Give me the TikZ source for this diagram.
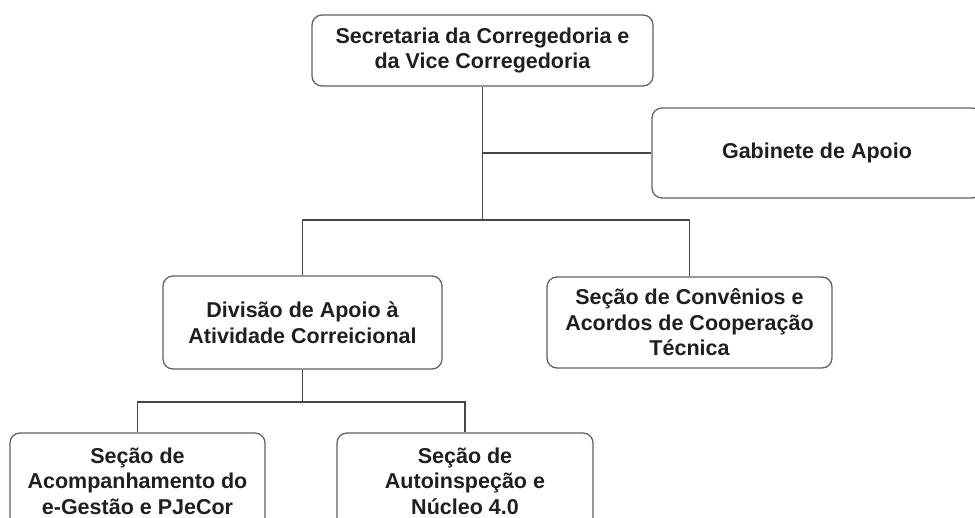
\documentclass[tikz,border=0pt]{standalone}
\usepackage{fontspec}
\setmainfont{Liberation Sans}
\tikzstyle{unit} = [draw=black!62, line width=1.3pt, rounded corners=10pt, align=center, font={\fontsize{21.5}{25.5}\selectfont\bfseries}, text=black!88]
\tikzstyle{link} = [draw=black!72, line width=1.5pt]

\begin{document}
\begin{tikzpicture}[x=1pt,y=-1pt]
    \useasboundingbox (0,0) rectangle (975,518);
    \node[unit,minimum width=341pt,minimum height=71pt](sec) at (482.5,50.5){Secretaria da Corregedoria e\\da Vice Corregedoria};
    \node[unit,minimum width=330pt,minimum height=90pt](gab) at (817,153){Gabinete de Apoio};
    \node[unit,minimum width=279pt,minimum height=93pt](div) at (302.5,322.5){Divisão de Apoio à\\Atividade Correicional};
    \node[unit,minimum width=285pt,minimum height=91pt](conv) at (689.5,322.5){Seção de Convênios e\\Acordos de Cooperação\\Técnica};
    \node[unit,minimum width=255pt,minimum height=96pt](acomp) at (137.5,481){Seção de\\Acompanhamento do\\e-Gestão e PJeCor};
    \node[unit,minimum width=256pt,minimum height=96pt](auto) at (465,481){Seção de\\Autoinspeção e\\Núcleo 4.0};
    \coordinate (bus) at (482.5,220);
    \coordinate (bus2) at (302.5,402);
    \draw[link](sec.south)--(bus);
    \draw[link](sec.south|-gab.west)--(gab.west);
    \draw[link](div.north)|-(bus)-|(conv.north);
    \draw[link](div.south)--(bus2);
    \draw[link](acomp.north)|-(bus2)-|(auto.north);
  \end{tikzpicture}
\end{document}
